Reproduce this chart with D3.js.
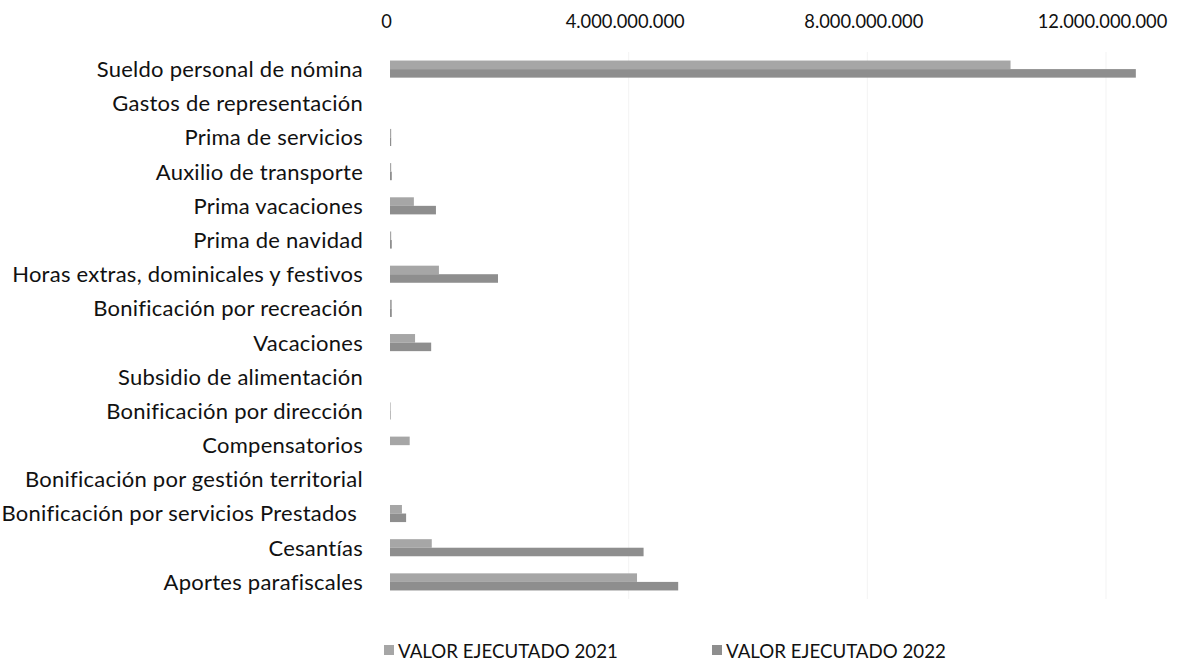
<!DOCTYPE html>
<html>
<head>
<meta charset="utf-8">
<script src="https://cdn.jsdelivr.net/npm/d3@7"></script>
<style>
  html, body { margin: 0; padding: 0; background: #fff; }
  svg { display: block; }
  text { font-family: "Lato", "Open Sans", sans-serif; fill: #111; }
</style>
</head>
<body>
<svg id="chart" width="1189" height="661"></svg>
<script>
const categories = [
  "Sueldo personal de nómina",
  "Gastos de representación",
  "Prima de servicios",
  "Auxilio de transporte",
  "Prima vacaciones",
  "Prima de navidad",
  "Horas extras, dominicales y festivos",
  "Bonificación por recreación",
  "Vacaciones",
  "Subsidio de alimentación",
  "Bonificación por dirección",
  "Compensatorios",
  "Bonificación por gestión territorial",
  "Bonificación por servicios Prestados ",
  "Cesantías",
  "Aportes parafiscales"
];
const seriesNames = ["VALOR EJECUTADO 2021", "VALOR EJECUTADO 2022"];
const valores2021 = [10400000000, 0, 20000000, 20000000, 400000000, 20000000, 820000000, 30000000, 420000000, 0, 10000000, 330000000, 0, 200000000, 700000000, 4140000000];
const valores2022 = [12500000000, 0, 20000000, 30000000, 770000000, 30000000, 1810000000, 30000000, 690000000, 0, 10000000, 0, 0, 270000000, 4250000000, 4830000000];
const tickValues = [0, 4000000000, 8000000000, 12000000000];
const seriesColors = ["#a6a6a6", "#8e8e8e"];

const svg = d3.select("#chart");
const x = d3.scaleLinear().domain([0, 12000000000]).range([390, 1106]);
const y = d3.scaleBand().domain(categories).range([52, 599]).paddingInner(0.5).paddingOuter(0.25);
const ySub = d3.scaleBand().domain(seriesNames).range([0, y.bandwidth()]);

const fmt = v => d3.format(",")(v).replace(/,/g, ".");

// gridlines
svg.append("g").selectAll("line").data(tickValues.slice(1)).join("line")
  .attr("x1", d => x(d)).attr("x2", d => x(d))
  .attr("y1", 52).attr("y2", 599)
  .attr("stroke", "#f3f3f3").attr("stroke-width", 1);

// top axis
const axis = d3.axisTop(x).tickValues(tickValues).tickFormat(fmt).tickSize(0).tickPadding(0);
const ag = svg.append("g").attr("transform", "translate(-4,28)").call(axis);
ag.select(".domain").remove();
ag.selectAll("text").style("font-size", "18.3px").attr("fill", "#111")
  .style("font-family", "Lato, sans-serif");

// category labels
const lg = d3.axisLeft(y).tickSize(0).tickPadding(0);
const cg = svg.append("g").attr("transform", "translate(363,0)").call(lg);
cg.select(".domain").remove();
cg.selectAll("text").style("font-size", "22px").style("letter-spacing", "0.25px").attr("fill", "#111")
  .style("white-space", "pre")
  .style("font-family", "Lato, sans-serif").attr("dy", "0.36em");

// bars
const series = [valores2021, valores2022];
series.forEach((vals, si) => {
  svg.append("g").selectAll("rect").data(categories).join("rect")
    .attr("x", x(0))
    .attr("y", (c) => y(c) + ySub(seriesNames[si]))
    .attr("width", (c, i) => x(vals[i]) - x(0))
    .attr("height", ySub.bandwidth())
    .attr("fill", seriesColors[si]);
});

// legend
const legendX = [384, 712];
seriesNames.forEach((n, i) => {
  const g = svg.append("g").attr("transform", `translate(${legendX[i]},651)`);
  g.append("rect").attr("x", 0).attr("y", -6).attr("width", 10).attr("height", 10).attr("fill", seriesColors[i]);
  g.append("text").attr("x", 14).attr("y", 0).attr("dy", "0.35em")
    .style("font-size", "18.7px").text(n);
});
</script>
</body>
</html>
